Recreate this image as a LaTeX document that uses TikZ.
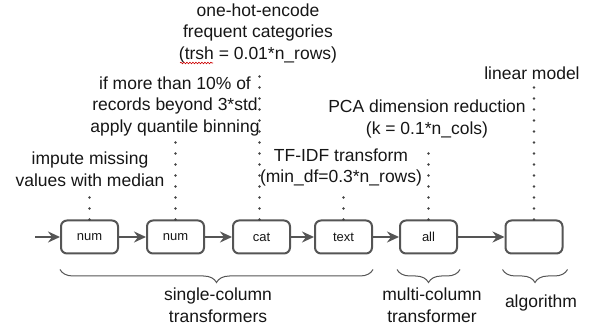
\documentclass[tikz,border=0pt]{standalone}
\usepackage{fontspec}
\setmainfont{Liberation Sans}
\usetikzlibrary{arrows.meta,decorations.pathreplacing,decorations.pathmorphing}
\definecolor{edge}{HTML}{555555}
\definecolor{dotc}{HTML}{444444}
\definecolor{txt}{HTML}{161616}
\begin{document}
\begin{tikzpicture}[x=1pt,y=-1pt,
  box/.style={draw=edge, line width=2pt, rounded corners=6pt, minimum width=57pt, minimum height=33pt, inner sep=0pt, font=\fontsize{13}{15}\selectfont, text=txt},
  note/.style={align=center, font=\fontsize{17.5}{21.5}\selectfont, text=txt, inner sep=0pt},
  flow/.style={draw=edge, line width=2pt, -{Stealth[length=12pt,width=11pt,inset=4pt]}},
  dotline/.style={draw=dotc, line width=2.6pt, line cap=round, dash pattern=on 0pt off 11pt},
  brace/.style={draw=edge, line width=1pt, decorate, decoration={brace, mirror, amplitude=13pt}},
]
\useasboundingbox (0,0) rectangle (592,328);

% boxes
\node[box] (b1) at (89.5,237) {num};
\node[box] (b2) at (175.5,237) {num};
\node[box] (b3) at (261.5,237) {cat};
\node[box] (b4) at (343.5,237) {text};
\node[box] (b5) at (428.5,237) {all};
\node[box] (b6) at (534,237) {};
\coordinate (start) at (35,237);

% flow arrows
\draw[flow] (start) -- (b1);
\draw[flow] (b1) -- (b2);
\draw[flow] (b2) -- (b3);
\draw[flow] (b3) -- (b4);
\draw[flow] (b4) -- (b5);
\draw[flow] (b5) -- (b6);

% notes
\node[note] (t1) at (90,169) {impute missing\\values with median};
\node[note] (t2) at (175,106) {if more than 10\% of\\records beyond 3*std\\apply quantile binning};
\node[note] (t3) at (258,33) {one-hot-encode\\frequent categories\\(trsh = 0.01*n\_rows)};
\node[note] (t4) at (341,167.5) {TF-IDF transform\\(min\_df=0.3*n\_rows)};
\node[note] (t5) at (427,119) {PCA dimension reduction\\(k = 0.1*n\_cols)};
\node[note] (t6) at (532,73) {linear model};

% spell-check squiggle
\draw[red!80!black, line width=0.6pt, decorate, decoration={snake, amplitude=0.8pt, segment length=3pt}] (180,63) -- (213,63);

% dotted leaders
\draw[dotline] (b1.north) -- ([yshift=-6pt]b1.north |- t1.south);
\draw[dotline] (b2.north) -- ([yshift=-6pt]b2.north |- t2.south);
\draw[dotline] ([xshift=-2pt]b3.north) -- ([xshift=-2pt,yshift=-6pt]b3.north |- t3.south);
\draw[dotline] (b4.north) -- ([yshift=-6pt]b4.north |- t4.south);
\draw[dotline] (b5.north) -- ([yshift=-6pt]b5.north |- t5.south);
\draw[dotline] (b6.north) -- ([yshift=-6pt]b6.north |- t6.south);

% braces
\draw[brace] ([yshift=-15pt]b1.south west) -- ([yshift=-15pt]b4.south east);
\draw[brace] ([yshift=-15pt,xshift=-2pt]b5.south west) -- ([yshift=-15pt,xshift=2pt]b5.south east);
\draw[brace] ([yshift=-15pt,xshift=-2pt]b6.south west) -- ([yshift=-15pt,xshift=4pt]b6.south east);

% group labels
\node[note] (g1) at (218,305) {single-column\\transformers};
\node[note] (g2) at (432,305) {multi-column\\transformer};
\node[note] (g3) at (541,303) {algorithm};
\end{tikzpicture}
\end{document}
